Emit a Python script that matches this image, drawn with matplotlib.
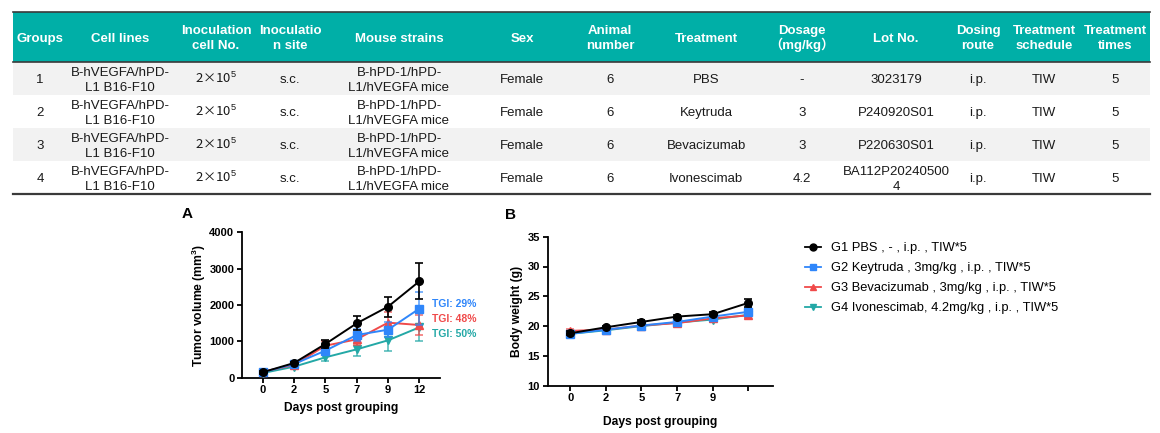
import matplotlib
matplotlib.use("Agg")
import matplotlib.pyplot as plt
from matplotlib.patches import Rectangle
from matplotlib.lines import Line2D

plt.rcParams['font.family'] = ['Liberation Sans', 'Noto Sans CJK SC', 'DejaVu Sans']
plt.rcParams['mathtext.fontset'] = 'custom'
plt.rcParams['mathtext.rm'] = 'Liberation Sans'
plt.rcParams['mathtext.bf'] = 'Liberation Sans:bold'

# ---------------- data ----------------
col_headers = ["Groups", "Cell lines", "Inoculation\ncell No.", "Inoculatio\nn site",
               "Mouse strains", "Sex", "Animal\nnumber", "Treatment",
               "Dosage\n（mg/kg）", "Lot No.", "Dosing\nroute",
               "Treatment\nschedule", "Treatment\ntimes"]
groups = ["1", "2", "3", "4"]
cell_lines = ["B-hVEGFA/hPD-\nL1 B16-F10"] * 4
inoc_cells = ["2×10$^{5}$"] * 4
inoc_site = ["s.c."] * 4
mouse_strains = ["B-hPD-1/hPD-\nL1/hVEGFA mice"] * 4
sex = ["Female"] * 4
animal_number = ["6"] * 4
treatments = ["PBS", "Keytruda", "Bevacizumab", "Ivonescimab"]
dosage = ["-", "3", "3", "4.2"]
lot_no = ["3023179", "P240920S01", "P220630S01", "BA112P20240500\n4"]
dosing_route = ["i.p."] * 4
schedule = ["TIW"] * 4
treat_times = ["5"] * 4

days = ["0", "2", "5", "7", "9", "12"]
days_b = ["0", "2", "5", "7", "9", ""]

tv_g1 = [150, 404, 927, 1495, 1954, 2651]
tv_g1_err = [40, 40, 100, 190, 275, 495]
tv_g2 = [150, 376, 743, 1174, 1321, 1899]
tv_g2_err = [30, 40, 90, 160, 200, 455]
tv_g3 = [165, 349, 880, 1055, 1514, 1450]
tv_g3_err = [30, 50, 130, 160, 300, 270]
tv_g4 = [128, 303, 560, 780, 1028, 1385]
tv_g4_err = [20, 40, 90, 180, 300, 385]

bw_g1 = [18.8, 19.8, 20.7, 21.6, 22.0, 23.9]
bw_g1_err = [0.3, 0.2, 0.4, 0.3, 0.3, 0.7]
bw_g2 = [18.7, 19.4, 20.1, 20.7, 21.6, 22.4]
bw_g2_err = [0.3, 0.3, 0.3, 0.3, 0.3, 0.6]
bw_g3 = [19.2, 19.4, 20.1, 20.5, 21.3, 21.8]
bw_g3_err = [0.3, 0.3, 0.3, 0.3, 0.4, 0.4]
bw_g4 = [18.7, 19.3, 20.0, 20.6, 21.1, 21.9]
bw_g4_err = [0.3, 0.3, 0.3, 0.3, 0.4, 0.4]

tgi_labels = ["TGI: 29%", "TGI: 48%", "TGI: 50%"]
legend_labels = ["G1 PBS , - , i.p. , TIW*5",
                 "G2 Keytruda , 3mg/kg , i.p. , TIW*5",
                 "G3 Bevacizumab , 3mg/kg , i.p. , TIW*5",
                 "G4 Ivonescimab, 4.2mg/kg , i.p. , TIW*5"]

# ---------------- style ----------------
TEAL_HDR = "#00AFA7"
ROW_GRAY = "#F2F2F2"
LINE_DARK = "#3A3A3A"
C_BLACK = "#000000"
C_BLUE = "#2F86FA"
C_RED = "#F04A4A"
C_TEAL = "#23A8A6"

W, H = 1160, 433
fig = plt.figure(figsize=(W / 100, H / 100), dpi=100)


def ftext(x, y, s, **kw):
    """Text placed in figure pixel coordinates (y measured from top)."""
    return fig.text(x / W, 1 - y / H, s, **kw)


# ---------------- table ----------------
tab = fig.add_axes([0, 0, 1, 1])
tab.set_xlim(0, W)
tab.set_ylim(H, 0)
tab.axis("off")
tab.set_zorder(0)

tbl_left, tbl_right = 13, 1150
hdr_top, hdr_bot = 12, 62
row_h = 33
col_x = [40, 120, 216, 290, 399, 522, 610, 706, 802, 896, 978, 1044, 1115]
FS = 9.5
LINE_PX = 15.0
CAP_HALF = 0.716 * FS * 100 / 72 / 2

tab.add_patch(Rectangle((tbl_left, hdr_top), tbl_right - tbl_left, hdr_bot - hdr_top,
                        facecolor=TEAL_HDR, edgecolor="none"))
for i in range(4):
    if i % 2 == 0:
        tab.add_patch(Rectangle((tbl_left, hdr_bot + i * row_h), tbl_right - tbl_left, row_h,
                                facecolor=ROW_GRAY, edgecolor="none"))
tab.plot([tbl_left, tbl_right], [hdr_top, hdr_top], color=LINE_DARK, lw=1.2)
tab.plot([tbl_left, tbl_right], [hdr_bot, hdr_bot], color=LINE_DARK, lw=1.2)
tab.plot([tbl_left, tbl_right], [hdr_bot + 4 * row_h, hdr_bot + 4 * row_h], color=LINE_DARK, lw=1.6)


def cell_text(x, yc, s, **kw):
    lines = s.split("\n")
    n = len(lines)
    for j, ln in enumerate(lines):
        yb = yc - (n - 1) * LINE_PX / 2 + j * LINE_PX + CAP_HALF
        ftext(x, yb, ln, ha="center", va="baseline", **kw)


for x, h in zip(col_x, col_headers):
    cell_text(x, (hdr_top + hdr_bot) / 2, h, color="white", fontsize=FS, fontweight="bold")

columns = [groups, cell_lines, inoc_cells, inoc_site, mouse_strains, sex, animal_number,
           treatments, dosage, lot_no, dosing_route, schedule, treat_times]
for ci, (x, col) in enumerate(zip(col_x, columns)):
    for i, v in enumerate(col):
        yc = hdr_bot + i * row_h + row_h / 2
        kw = dict(color="#1a1a1a", fontsize=FS)
        if col is inoc_cells:
            kw["family"] = ["Noto Sans CJK SC", "Liberation Sans"]
        cell_text(x, yc, v, **kw)

# panel letters
ftext(187, 214, "A", fontsize=11, fontweight="bold", ha="center", va="center")
ftext(511, 215, "B", fontsize=11, fontweight="bold", ha="center", va="center")


def px_axes(left, right, top, bottom):
    ax = fig.add_axes([left / W, (H - bottom) / H, (right - left) / W, (bottom - top) / H])
    ax.set_facecolor("none")
    return ax


def style_axes(ax):
    for s in ["top", "right"]:
        ax.spines[s].set_visible(False)
    for s in ["left", "bottom"]:
        ax.spines[s].set_linewidth(1.3)
    ax.tick_params(width=1.3, length=3.5, labelsize=8, pad=2)
    for lab in ax.get_xticklabels() + ax.get_yticklabels():
        lab.set_fontweight("bold")


series_style = [
    (C_BLACK, "o"),
    (C_BLUE, "s"),
    (C_RED, "^"),
    (C_TEAL, "v"),
]

# ---------------- chart A ----------------
axA = px_axes(242, 440, 232.3, 377.7)
xs = list(range(len(days)))
tv = [(tv_g1, tv_g1_err), (tv_g2, tv_g2_err), (tv_g3, tv_g3_err), (tv_g4, tv_g4_err)]
for k in [3, 2, 1, 0]:
    c, m = series_style[k]
    y, e = tv[k]
    eb = axA.errorbar(xs, y, yerr=e, color=c, ecolor=c, elinewidth=1.2, capsize=3, capthick=1.2,
                      marker=m, markersize=5.5, lw=1.4, zorder=3 + (3 - k))
    if k > 0:
        for art in eb[1] + eb[2]:
            art.set_alpha(0.75)
axA.set_xlim(-0.66, 5.66)
axA.set_ylim(0, 4000)
axA.set_xticks(xs)
axA.set_xticklabels(days)
axA.set_yticks([0, 1000, 2000, 3000, 4000])
style_axes(axA)
axA.set_ylabel(r"Tumor volume (mm$^\mathbf{3}$)", fontsize=8.7, fontweight="bold", labelpad=1)
axA.set_xlabel("Days post grouping", fontsize=8.7, fontweight="bold", labelpad=5)

for txt, c, yy in zip(tgi_labels, [C_BLUE, C_RED, C_TEAL], [304, 319, 334]):
    ftext(432, yy, txt, color=c, fontsize=7.5, fontweight="bold", ha="left", va="center")

# ---------------- chart B ----------------
axB = px_axes(547.7, 772.7, 236.7, 385.7)
bw = [(bw_g1, bw_g1_err), (bw_g2, bw_g2_err), (bw_g3, bw_g3_err), (bw_g4, bw_g4_err)]
for k in [3, 2, 1, 0]:
    c, m = series_style[k]
    y, e = bw[k]
    eb = axB.errorbar(xs, y, yerr=e, color=c, ecolor=c, elinewidth=1.2, capsize=3, capthick=1.2,
                      marker=m, markersize=5.5, lw=1.4, zorder=3 + (3 - k))
    if k > 0:
        for art in eb[1] + eb[2]:
            art.set_alpha(0.75)
axB.set_xlim(-0.63, 5.68)
axB.set_ylim(10, 35)
axB.set_xticks(xs)
axB.set_xticklabels(days_b)
axB.set_yticks([10, 15, 20, 25, 30, 35])
style_axes(axB)
axB.set_ylabel("Body weight (g)", fontsize=8.7, fontweight="bold", labelpad=3)
axB.set_xlabel("Days post grouping", fontsize=8.7, fontweight="bold", labelpad=9)

handles = [Line2D([], [], color=c, marker=m, markersize=5, lw=1.3) for c, m in series_style]
fig.legend(handles, legend_labels, loc="upper left", bbox_to_anchor=(805 / W, (H - 242) / H),
           frameon=False, fontsize=9.3, handlelength=1.25, handletextpad=0.75,
           labelspacing=0.62, borderpad=0, borderaxespad=0)

fig.savefig("out.png", dpi=100)
